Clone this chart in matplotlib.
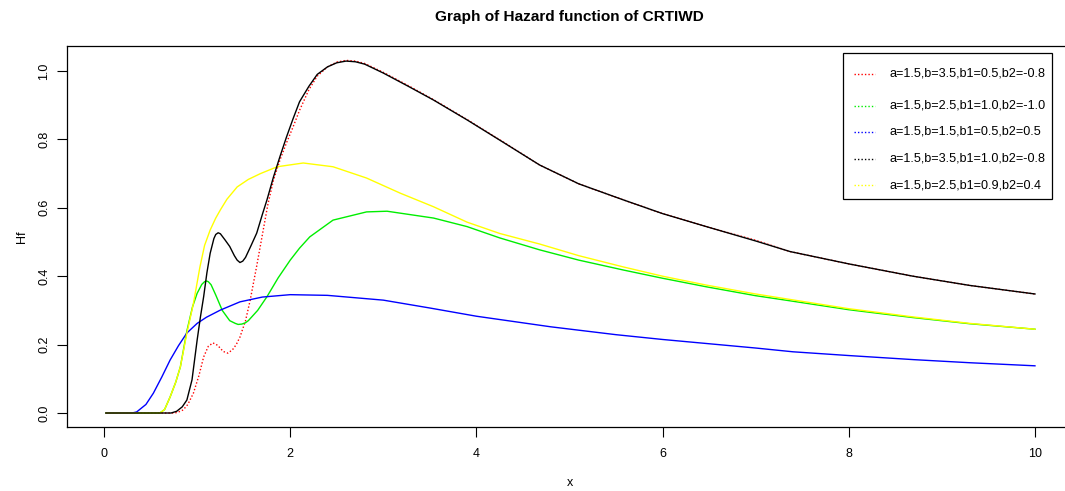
import matplotlib
matplotlib.use("Agg")
import matplotlib.pyplot as plt
from matplotlib.lines import Line2D
from matplotlib.patches import Rectangle

plt.rcParams['font.family'] = ['Liberation Sans', 'DejaVu Sans']

# values
x_red = [0.02, 0.76, 0.8, 0.85, 0.9, 0.96, 1.02, 1.07, 1.12, 1.17, 1.22, 1.28, 1.33, 1.38, 1.42,
         1.46, 1.52, 1.57, 1.64, 1.71, 1.76, 1.82, 1.89, 1.96, 2.03, 2.1, 2.2, 2.29, 2.4, 2.5,
         2.6, 2.7, 2.8, 3.0, 3.27, 3.54, 3.9, 4.25, 4.68, 5.1, 5.58, 6.0, 6.47, 7.0, 7.37,
         8.0, 8.69, 9.3, 10.0]
y_red = [0, 0, 0.003, 0.009, 0.025, 0.058, 0.11, 0.164, 0.195, 0.205, 0.198, 0.18, 0.175, 0.185, 0.2,
         0.222, 0.27, 0.33, 0.43, 0.535, 0.61, 0.681, 0.74, 0.79, 0.836, 0.885, 0.945, 0.985, 1.012, 1.026,
         1.031, 1.029, 1.022, 0.996, 0.957, 0.916, 0.858, 0.799, 0.725, 0.67, 0.623, 0.583, 0.545, 0.505, 0.472,
         0.436, 0.40, 0.373, 0.348]

x_green = [0.02, 0.6, 0.65, 0.71, 0.77, 0.82, 0.89, 0.95, 1.0, 1.05, 1.08, 1.1, 1.12, 1.15, 1.2,
           1.27, 1.35, 1.41, 1.44, 1.48, 1.52, 1.55, 1.65, 1.75, 1.87, 2.0, 2.1, 2.21, 2.46, 2.82,
           3.04, 3.54, 3.9, 4.25, 4.68, 5.1, 5.58, 6.0, 6.47, 7.0, 7.37, 8.0, 8.69, 9.3, 10.0]
y_green = [0, 0, 0.01, 0.047, 0.09, 0.135, 0.24, 0.31, 0.35, 0.376, 0.384, 0.386, 0.384, 0.375, 0.345,
           0.30, 0.27, 0.262, 0.259, 0.26, 0.264, 0.27, 0.30, 0.34, 0.395, 0.447, 0.482, 0.515, 0.564, 0.588,
           0.59, 0.57, 0.545, 0.512, 0.477, 0.447, 0.418, 0.394, 0.369, 0.343, 0.328, 0.302, 0.279, 0.261, 0.245]

x_blue = [0.02, 0.30, 0.35, 0.45, 0.53, 0.62, 0.71, 0.80, 0.89, 1.0, 1.1, 1.25, 1.46, 1.7, 2.0,
          2.4, 3.0, 3.5, 4.0, 4.8, 5.5, 6.0, 7.0, 7.4, 8.0, 8.7, 9.3, 10.0]
y_blue = [0, 0, 0.003, 0.025, 0.058, 0.105, 0.155, 0.197, 0.234, 0.262, 0.28, 0.301, 0.325, 0.339, 0.346,
          0.344, 0.33, 0.307, 0.283, 0.252, 0.229, 0.215, 0.19, 0.179, 0.168, 0.156, 0.147, 0.138]

x_black = [0.02, 0.72, 0.78, 0.84, 0.89, 0.945, 1.0, 1.035, 1.07, 1.105, 1.14, 1.18, 1.2, 1.226, 1.25,
           1.3, 1.35, 1.40, 1.43, 1.46, 1.49, 1.52, 1.58, 1.64, 1.70, 1.75, 1.82, 1.89, 1.96, 2.03,
           2.1, 2.2, 2.29, 2.4, 2.5, 2.6, 2.7, 2.8, 3.0, 3.27, 3.54, 3.9, 4.25, 4.68, 5.1,
           5.58, 6.0, 6.47, 7.0, 7.37, 8.0, 8.69, 9.3, 10.0]
y_black = [0, 0, 0.005, 0.018, 0.038, 0.097, 0.213, 0.28, 0.34, 0.41, 0.467, 0.51, 0.522, 0.527, 0.524,
           0.506, 0.487, 0.46, 0.447, 0.44, 0.444, 0.455, 0.49, 0.526, 0.58, 0.623, 0.69, 0.75, 0.807, 0.86,
           0.91, 0.955, 0.99, 1.012, 1.024, 1.029, 1.027, 1.02, 0.994, 0.955, 0.915, 0.857, 0.798, 0.725, 0.67,
           0.623, 0.583, 0.545, 0.503, 0.472, 0.436, 0.40, 0.373, 0.348]

x_yellow = [0.02, 0.6, 0.65, 0.71, 0.77, 0.82, 0.89, 0.96, 1.03, 1.08, 1.14, 1.2, 1.25, 1.32, 1.43,
            1.55, 1.68, 1.86, 2.14, 2.46, 2.82, 3.18, 3.54, 3.9, 4.25, 4.68, 5.1, 5.58, 6.0, 6.47,
            7.0, 7.37, 8.0, 8.69, 9.3, 10.0]
y_yellow = [0, 0, 0.01, 0.047, 0.09, 0.135, 0.234, 0.32, 0.427, 0.49, 0.535, 0.57, 0.594, 0.625, 0.661,
            0.683, 0.70, 0.72, 0.731, 0.72, 0.687, 0.643, 0.603, 0.558, 0.525, 0.494, 0.46, 0.427, 0.40, 0.374,
            0.348, 0.332, 0.305, 0.281, 0.262, 0.245]

labels = ["a=1.5,b=3.5,b1=0.5,b2=-0.8", "a=1.5,b=2.5,b1=1.0,b2=-1.0", "a=1.5,b=1.5,b1=0.5,b2=0.5",
          "a=1.5,b=3.5,b1=1.0,b2=-0.8", "a=1.5,b=2.5,b1=0.9,b2=0.4"]
colors = ["red", "#00ee00", "blue", "black", "yellow"]

W, H = 1065, 491
fig = plt.figure(figsize=(W / 100, H / 100), dpi=100)
ax = fig.add_axes([66.8 / W, 1 - 427.1 / H, (1072.2 - 66.8) / W, 380.8 / H])

lw = 1.0
ax.plot(x_red, y_red, color=colors[0], lw=lw, linestyle=(0, (1, 1.5)))
ax.plot(x_green, y_green, color=colors[1], lw=lw)
ax.plot(x_blue, y_blue, color=colors[2], lw=lw)
ax.plot(x_yellow, y_yellow, color=colors[4], lw=lw)
ax.plot(x_black, y_black, color=colors[3], lw=lw)

ax.set_xlim(-0.4, 10.4)
ax.set_ylim(-0.0412, 1.0722)
ax.set_xticks([0, 2, 4, 6, 8, 10])
ax.set_yticks([0.0, 0.2, 0.4, 0.6, 0.8, 1.0])
ax.set_yticklabels(["0.0", "0.2", "0.4", "0.6", "0.8", "1.0"], rotation=90, va="center")
ax.tick_params(direction="out", length=7, width=0.8, labelsize=9, pad=8)
ax.tick_params(axis="y", pad=5)
for s in ax.spines.values():
    s.set_linewidth(0.9)
# the plot box runs past the right edge of the picture
ax.spines["right"].set_visible(False)

fig.text(569.5 / W, 1 - 17 / H, "Graph of Hazard function of CRTIWD", ha="center", va="center",
         fontsize=11.1, fontweight="bold")
fig.text(569.5 / W, 1 - 483 / H, "x", ha="center", va="center", fontsize=9)
fig.text(22 / W, 1 - 237 / H, "Hf", ha="center", va="center", rotation=90, fontsize=9)

# legend box drawn in figure pixels
fig.patches.append(Rectangle((843 / W, 1 - 199 / H), (1052 - 843) / W, (199 - 53) / H,
                             transform=fig.transFigure, fill=False, edgecolor="black", lw=0.9))
rows = [74, 106, 132, 159, 185]
for yy, lab, c in zip(rows, labels, colors):
    fig.lines.append(Line2D([854 / W, 875 / W], [1 - yy / H, 1 - yy / H], transform=fig.transFigure,
                            color=c, lw=lw, linestyle=(0, (1, 1.5))))
    fig.text(889 / W, 1 - yy / H, lab, ha="left", va="center", fontsize=9.1)

fig.savefig("out.png", dpi=100)
